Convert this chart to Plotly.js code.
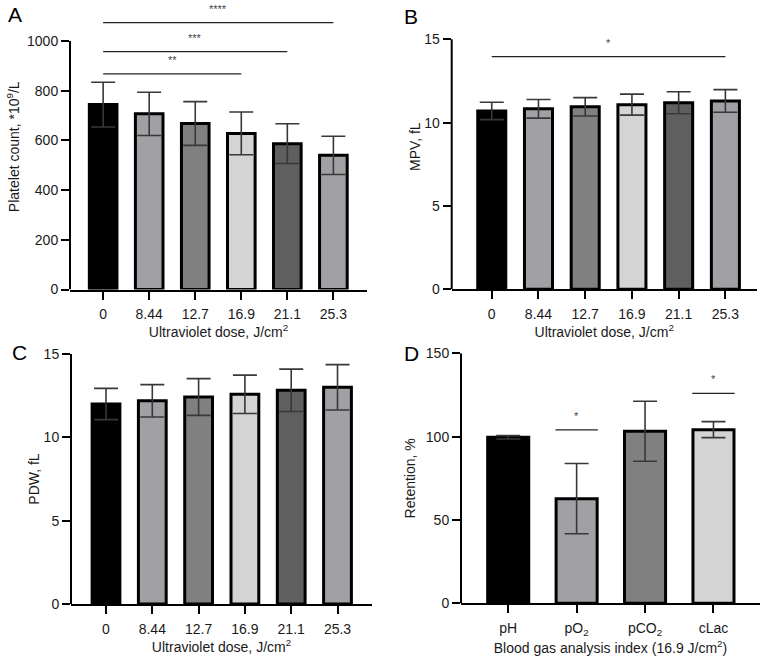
<!DOCTYPE html>
<html><head><meta charset="utf-8">
<script src="https://cdn.plot.ly/plotly-3.0.1.min.js"></script>
<style>html,body{margin:0;padding:0;background:#fff}#chart{width:764px;height:656px}</style>
</head><body><div id="chart"></div>
<script>
// ---------- data ----------
const doseLabels = ['0', '8.44', '12.7', '16.9', '21.1', '25.3'];
const doseColors = ['#000000', '#a1a1a5', '#808080', '#d4d4d4', '#5f5f5f', '#a1a1a5'];
const plateletMean = [744, 707, 668, 628, 587, 540];
const plateletSD = [90, 87, 88, 86, 80, 77];
const mpvMean = [10.70, 10.83, 10.95, 11.08, 11.19, 11.30];
const mpvSD = [0.52, 0.56, 0.55, 0.63, 0.66, 0.68];
const pdwMean = [12.0, 12.19, 12.42, 12.58, 12.82, 13.0];
const pdwSD = [0.94, 0.97, 1.10, 1.15, 1.27, 1.36];
const gasLabels = ['pH', 'pO<sub>2</sub>', 'pCO<sub>2</sub>', 'cLac'];
const gasColors = ['#000000', '#a1a1a5', '#808080', '#d4d4d4'];
const retentionMean = [99.6, 62.8, 103.2, 104.2];
const retentionSD = [1.0, 21.1, 18.0, 4.8];
// significance brackets: category index span, height, label
const sigA = [{from: 0, to: 3, y: 868, label: '**'}, {from: 0, to: 4, y: 957, label: '***'}, {from: 0, to: 5, y: 1074, label: '****'}];
const sigB = [{from: 0, to: 5, y: 13.96, label: '*'}];
const sigD = [{from: 1, to: 1, y: 104, label: '*'}, {from: 3, to: 3, y: 126, label: '*'}];

// ---------- layout helpers ----------
const W = 764, H = 656;
const FONT = 'Liberation Sans, Arial, Helvetica, sans-serif';
const doseTitle = 'Ultraviolet dose, J/cm<sup>2</sup>';
const panels = [
  {ax: '', letter: 'A', lx: 15, ly: 14, cats: doseLabels, colors: doseColors, mean: plateletMean, sd: plateletSD,
   xd: [70, 367], yd: [4, 289.5], xr: [-0.72, 5.73], yr: [0, 1148.9], ytop: 1000, dtick: 200,
   xt: doseTitle, yt: 'Platelet count, *10<sup>9</sup>/L', ystand: 4, sig: sigA},
  {ax: '2', letter: 'B', lx: 411, ly: 16, cats: doseLabels, colors: doseColors, mean: mpvMean, sd: mpvSD,
   xd: [451.7, 756.7], yd: [4, 289.3], xr: [-0.857, 5.67], yr: [0, 17.12], ytop: 15, dtick: 5,
   xt: doseTitle, yt: 'MPV, fL', ystand: 0, sig: sigB},
  {ax: '3', letter: 'C', lx: 19, ly: 352, cats: doseLabels, colors: doseColors, mean: pdwMean, sd: pdwSD,
   xd: [71, 372], yd: [354, 604], xr: [-0.756, 5.745], yr: [0, 15], ytop: 15, dtick: 5,
   xt: doseTitle, yt: 'PDW, fL', ystand: 0, sig: []},
  {ax: '4', letter: 'D', lx: 412, ly: 353, cats: gasLabels, colors: gasColors, mean: retentionMean, sd: retentionSD,
   xd: [461, 760], yd: [353.3, 603.3], xr: [-0.69, 3.68], yr: [0, 150], ytop: 150, dtick: 50,
   xt: 'Blood gas analysis index (16.9 J/cm<sup>2</sup>)', yt: 'Retention, %', ystand: 6, sig: sigD}
];

const data = [];
const layout = {
  width: W, height: H, margin: {l: 0, r: 0, t: 0, b: 0},
  paper_bgcolor: '#ffffff', plot_bgcolor: 'rgba(0,0,0,0)',
  font: {family: FONT, size: 14, color: '#1a1a1a'},
  showlegend: false, shapes: [], annotations: []
};

panels.forEach(p => {
  const xa = 'x' + p.ax, ya = 'y' + p.ax;
  const idx = p.cats.map((_, i) => i);
  data.push({
    type: 'bar', x: idx, y: p.mean, width: 0.6, xaxis: xa, yaxis: ya,
    marker: {color: p.colors, line: {color: '#000000', width: 3}},
    error_y: {type: 'data', array: p.sd, visible: true, color: '#383838', thickness: 1.6, width: 12},
    hoverinfo: 'skip'
  });
  layout['xaxis' + p.ax] = {
    domain: [p.xd[0] / W, p.xd[1] / W], range: p.xr, anchor: ya,
    tickmode: 'array', tickvals: idx, ticktext: p.cats,
    showline: true, linewidth: 2, linecolor: '#000000',
    ticks: 'outside', ticklen: 8, tickwidth: 2, tickcolor: '#000000', ticklabelstandoff: 3,
    showgrid: false, zeroline: false, tickfont: {size: 14, color: '#1a1a1a'},
    title: {text: p.xt, font: {size: 14, color: '#1a1a1a'}, standoff: 0}, fixedrange: true
  };
  layout['yaxis' + p.ax] = {
    domain: [1 - p.yd[1] / H, 1 - p.yd[0] / H], range: p.yr, anchor: xa,
    tick0: 0, dtick: p.dtick, showline: false,
    ticks: 'outside', ticklen: 8, tickwidth: 2, tickcolor: '#000000',
    showgrid: false, zeroline: false, tickfont: {size: 14, color: '#1a1a1a'},
    title: {text: p.yt, font: {size: 14, color: '#1a1a1a'}, standoff: p.ystand}, fixedrange: true
  };
  // y axis line only up to the top tick
  layout.shapes.push({type: 'line', xref: xa + ' domain', yref: ya, x0: 0, x1: 0, y0: 0, y1: p.ytop,
    line: {color: '#000000', width: 2}});
  // significance brackets
  p.sig.forEach(s => {
    const half = s.from === s.to ? 0.31 : 0;
    layout.shapes.push({type: 'line', xref: xa, yref: ya, x0: s.from - half, x1: s.to + half, y0: s.y, y1: s.y,
      line: {color: '#222222', width: 1.3}});
    layout.annotations.push({xref: xa, yref: ya, x: (s.from + s.to) / 2, y: s.y, text: s.label,
      showarrow: false, yanchor: 'bottom', yshift: 6, font: {size: 11, color: '#444444'}});
  });
  layout.annotations.push({xref: 'paper', yref: 'paper', x: p.lx / W, y: 1 - p.ly / H, text: p.letter,
    showarrow: false, xanchor: 'center', yanchor: 'middle', font: {size: 21, color: '#000000'}});
});

Plotly.newPlot('chart', data, layout, {displayModeBar: false, staticPlot: true});
</script>
</body></html>
